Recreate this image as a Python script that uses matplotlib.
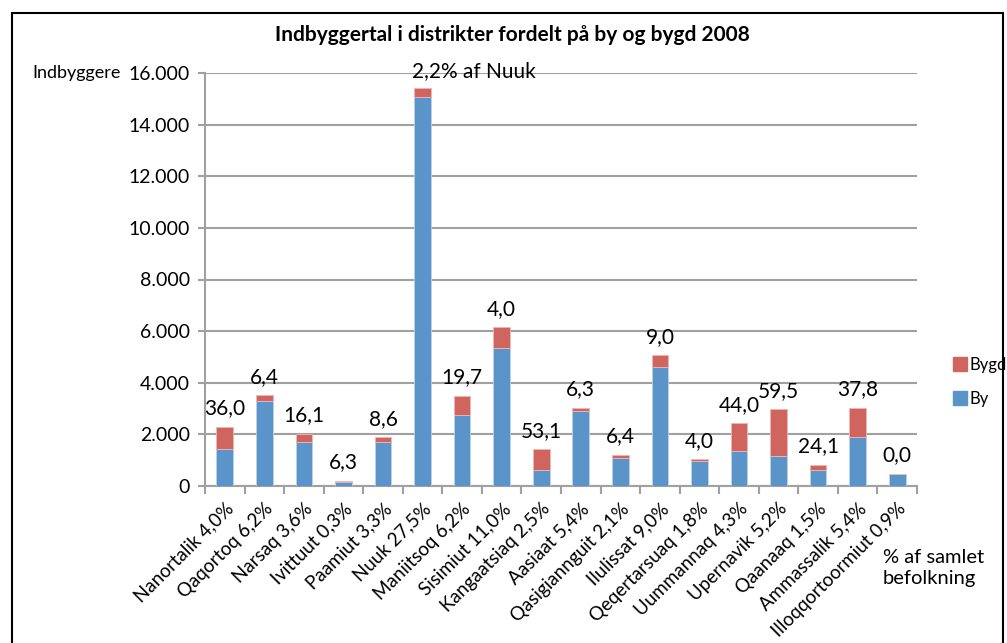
import matplotlib.pyplot as plt
import numpy as np
from matplotlib.patches import Rectangle
from matplotlib.lines import Line2D

plt.rcParams['font.family'] = ['Lato', 'DejaVu Sans']

districts = ["Nanortalik 4,0%", "Qaqortoq 6,2%", "Narsaq 3,6%", "Ivittuut 0,3%",
             "Paamiut 3,3%", "Nuuk 27,5%", "Maniitsoq 6,2%", "Sisimiut 11,0%",
             "Kangaatsiaq 2,5%", "Aasiaat 5,4%", "Qasigiannguit 2,1%", "Ilulissat 9,0%",
             "Qeqertarsuaq 1,8%", "Uummannaq 4,3%", "Upernavik 5,2%", "Qaanaaq 1,5%",
             "Ammassalik 5,4%", "Illoqqortoormiut 0,9%"]
by = [1430, 3290, 1690, 160, 1720, 15080, 2760, 5340, 630, 2900, 1100, 4620,
      950, 1360, 1150, 630, 1890, 475]
bygd = [870, 220, 330, 40, 170, 340, 740, 810, 790, 130, 120, 440,
        80, 1070, 1820, 190, 1150, 0]
bar_labels = ["36,0", "6,4", "16,1", "6,3", "8,6", "2,2% af Nuuk", "19,7", "4,0",
              "53,1", "6,3", "6,4", "9,0", "4,0", "44,0", "59,5", "24,1", "37,8", "0,0"]
yticks = [0, 2000, 4000, 6000, 8000, 10000, 12000, 14000, 16000]

blue = '#5B94C8'
red = '#D0655F'
grid_c = '#A0A0A0'

fig = plt.figure(figsize=(10.07, 6.43), dpi=100)
ax = fig.add_axes([205/1007, 1-486/643, (917-205)/1007, (486-73)/643])

x = np.arange(len(districts))
w = 0.42
ax.bar(x, by, w, color=blue, edgecolor='#BBD3EA', linewidth=0.6, zorder=3)
ax.bar(x, bygd, w, bottom=by, color=red, edgecolor='#EDB8B5', linewidth=0.6, zorder=3)

tot = np.array(by) + np.array(bygd)
for i, lab in enumerate(bar_labels):
    if i == 5:
        ax.text(i - w/2 - 0.05, tot[i] + 250, lab, ha='left', va='bottom', fontsize=15)
    else:
        ax.text(i, tot[i] + 330, lab, ha='center', va='bottom', fontsize=15)

ax.set_xlim(-0.5, len(districts) - 0.5)
ax.set_ylim(0, 16000)
ax.set_yticks(yticks)
ax.set_yticklabels([f"{v:,}".replace(",", ".") for v in yticks], fontsize=14)
ax.yaxis.grid(True, color=grid_c, linewidth=1.5, zorder=0)
ax.set_axisbelow(True)

ax.set_xticks(x)
ax.set_xticklabels(districts, rotation=45, ha='right', rotation_mode='anchor', fontsize=13.5)
ax.set_xticks(np.arange(-0.5, len(districts)), minor=True)
ax.tick_params(axis='x', which='major', length=0, pad=10)
ax.tick_params(axis='x', which='minor', length=6, color=grid_c, width=1.5)
ax.tick_params(axis='y', length=5, color=grid_c, width=1.5, pad=6)

for s in ['top', 'right']:
    ax.spines[s].set_visible(False)
for s in ['left', 'bottom']:
    ax.spines[s].set_color(grid_c)
    ax.spines[s].set_linewidth(1.5)

fig.text(512/1007, 1-35/643, "Indbyggertal i distrikter fordelt på by og bygd 2008",
         ha='center', va='center', fontsize=15, fontweight='bold')
fig.text(32/1007, 1-73/643, "Indbyggere", ha='left', va='center', fontsize=13)
fig.text(883/1007, 1-568/643, "% af samlet\nbefolkning", ha='left', va='center',
         fontsize=14.5, linespacing=1.3)

handles = [Line2D([], [], marker='s', linestyle='', markersize=10, color=red),
           Line2D([], [], marker='s', linestyle='', markersize=10, color=blue)]
fig.legend(handles, ["Bygd", "By"], loc='center left', bbox_to_anchor=(951/1007, 1-382/643),
           frameon=False, fontsize=12, handletextpad=0.0, labelspacing=1.1,
           handlelength=1.1, borderpad=0, borderaxespad=0)

fig.patches.append(Rectangle((12/1007, -0.1), (1003-12)/1007, 1.1 - 13/643,
                             transform=fig.transFigure, fill=False,
                             edgecolor='black', linewidth=1.5))

fig.savefig('out.png', dpi=100)
